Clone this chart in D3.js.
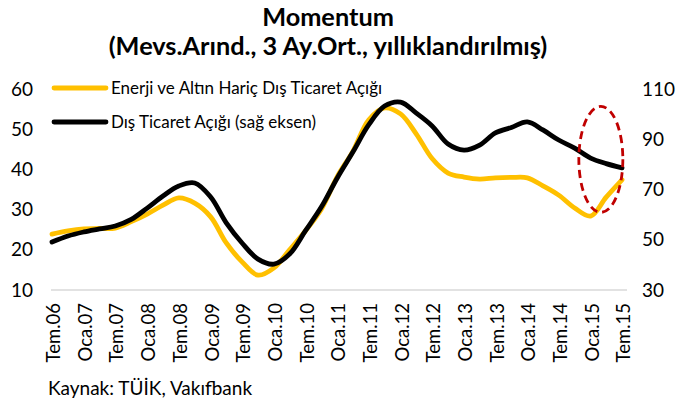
<!DOCTYPE html>
<html>
<head>
<meta charset="utf-8">
<script src="https://cdn.jsdelivr.net/npm/d3@7"></script>
<style>
  html, body { margin: 0; padding: 0; background: #fff; }
  svg { display: block; }
  text { font-family: Lato, "Open Sans", sans-serif; fill: #000; }
</style>
</head>
<body>
<svg id="chart" width="677" height="407"></svg>
<script>
// ---- Data (quarterly readings, Jul 2006 – Jul 2015) ----
const periods = ["2006-07","2006-10","2007-01","2007-04","2007-07","2007-10","2008-01","2008-04","2008-07","2008-10",
  "2009-01","2009-04","2009-07","2009-10","2010-01","2010-04","2010-07","2010-10","2011-01","2011-04",
  "2011-07","2011-10","2012-01","2012-04","2012-07","2012-10","2013-01","2013-04","2013-07","2013-10",
  "2014-01","2014-04","2014-07","2014-10","2015-01","2015-04","2015-07"];
const energyGoldExcl = [23.9,24.7,25.2,25.3,25.4,27.0,28.9,31.1,32.9,31.6,
  28.2,21.7,17.0,13.7,15.5,20.0,24.7,30.1,38.2,44.5,
  52.3,55.3,53.8,48.8,42.7,39.1,38.1,37.6,37.9,38.0,
  37.9,35.9,33.6,30.4,28.4,33.1,37.4];
const tradeDeficit = [49.1,51.5,53.1,54.3,55.5,58.1,62.6,67.4,71.4,72.6,
  67.0,56.7,48.7,42.3,40.3,44.3,53.5,63.0,74.6,84.9,
  95.7,103.2,104.8,100.4,95.3,88.1,85.7,87.7,92.5,94.7,
  96.9,93.7,89.7,86.5,82.5,80.3,78.6];
const tickDates = ["2006-07","2007-01","2007-07","2008-01","2008-07","2009-01","2009-07","2010-01","2010-07","2011-01",
  "2011-07","2012-01","2012-07","2013-01","2013-07","2014-01","2014-07","2015-01","2015-07"];
const tickLabels = ["Tem.06","Oca.07","Tem.07","Oca.08","Tem.08","Oca.09","Tem.09","Oca.10","Tem.10","Oca.11",
  "Tem.11","Oca.12","Tem.12","Oca.13","Tem.13","Oca.14","Tem.14","Oca.15","Tem.15"];
const leftTicks = [10,20,30,40,50,60];
const rightTicks = [30,50,70,90,110];
const seriesNames = ["Enerji ve Altın Hariç Dış Ticaret Açığı", "Dış Ticaret Açığı (sağ eksen)"];
const seriesColors = ["#ffc000", "#000000"];
const titleLines = ["Momentum", "(Mevs.Arınd., 3 Ay.Ort., yıllıklandırılmış)"];
const sourceText = "Kaynak: TÜİK, Vakıfbank";

// ---- Setup ----
const parse = d3.timeParse("%Y-%m");
const svg = d3.select("#chart");
const plot = { left: 52, right: 622, top: 89, bottom: 290 };

const x = d3.scaleTime()
  .domain([parse(periods[0]), parse(periods[periods.length - 1])])
  .range([plot.left, plot.right]);
const yL = d3.scaleLinear().domain([10, 60]).range([plot.bottom, plot.top]);
const yR = d3.scaleLinear().domain([30, 110]).range([plot.bottom, plot.top]);

// Title
svg.append("text").attr("x", 328).attr("y", 26).attr("text-anchor", "middle")
  .style("font-size", "25.3px").style("font-weight", "bold").text(titleLines[0]);
svg.append("text").attr("x", 328).attr("y", 55).attr("text-anchor", "middle")
  .style("font-size", "25.3px").style("font-weight", "bold").text(titleLines[1]);

// Baseline gridline
svg.append("line")
  .attr("x1", plot.left - 1).attr("x2", plot.right + 5)
  .attr("y1", yL(10)).attr("y2", yL(10))
  .attr("stroke", "#d9d9d9").attr("stroke-width", 1.5);

// Left axis
const gL = svg.append("g").attr("transform", `translate(33,0)`)
  .call(d3.axisLeft(yL).tickValues(leftTicks).tickSize(0).tickPadding(0));
gL.select(".domain").remove();
gL.selectAll("text").style("font-size", "19px").style("font-family", "Lato, sans-serif").attr("fill", "#000");

// Right axis
const gR = svg.append("g").attr("transform", `translate(642,0)`)
  .call(d3.axisRight(yR).tickValues(rightTicks).tickSize(0).tickPadding(0));
gR.select(".domain").remove();
gR.selectAll("text").style("font-size", "19px").style("font-family", "Lato, sans-serif").attr("fill", "#000");

// Bottom axis (rotated labels)
const labelMap = new Map(tickDates.map((d, i) => [+parse(d), tickLabels[i]]));
const gB = svg.append("g").attr("transform", `translate(0,${plot.bottom})`)
  .call(d3.axisBottom(x).tickValues(tickDates.map(parse)).tickSize(0)
    .tickFormat(d => labelMap.get(+d)));
gB.select(".domain").remove();
gB.selectAll("text")
  .style("font-size", "18.5px").style("font-family", "Lato, sans-serif").attr("fill", "#000")
  .attr("text-anchor", "end")
  .attr("transform", "rotate(-90)")
  .attr("x", -13).attr("y", 1).attr("dy", "0.36em");

// Lines
const lineL = d3.line().x((d, i) => x(parse(periods[i]))).y(d => yL(d)).curve(d3.curveCatmullRom.alpha(0.5));
const lineR = d3.line().x((d, i) => x(parse(periods[i]))).y(d => yR(d)).curve(d3.curveCatmullRom.alpha(0.5));

svg.append("path").datum(energyGoldExcl).attr("d", lineL)
  .attr("fill", "none").attr("stroke", seriesColors[0]).attr("stroke-width", 4.8)
  .attr("stroke-linejoin", "round").attr("stroke-linecap", "round");
svg.append("path").datum(tradeDeficit).attr("d", lineR)
  .attr("fill", "none").attr("stroke", seriesColors[1]).attr("stroke-width", 4.8)
  .attr("stroke-linejoin", "round").attr("stroke-linecap", "round");

// Highlight ellipse
svg.append("ellipse")
  .attr("cx", x(parse("2015-03"))).attr("cy", yR(82))
  .attr("rx", 22).attr("ry", 53)
  .attr("fill", "none").attr("stroke", "#c00000").attr("stroke-width", 2.8)
  .attr("stroke-dasharray", "8,5");

// Legend
const legend = svg.append("g");
[0, 1].forEach(i => {
  const ly = 88 + i * 34;
  legend.append("line").attr("x1", 54).attr("x2", 106).attr("y1", ly).attr("y2", ly)
    .attr("stroke", seriesColors[i]).attr("stroke-width", 4.8).attr("stroke-linecap", "round");
  legend.append("text").attr("x", 111).attr("y", ly).attr("dy", "0.35em")
    .style("font-size", "17px").text(seriesNames[i]);
});

// Source
svg.append("text").attr("x", 48).attr("y", 395).style("font-size", "19px").text(sourceText);
</script>
</body>
</html>
